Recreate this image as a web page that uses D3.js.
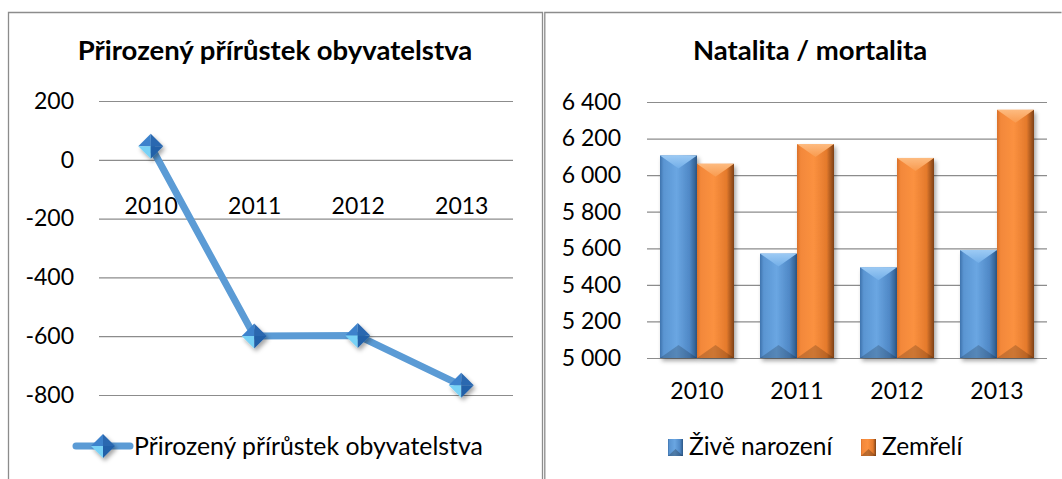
<!DOCTYPE html>
<html>
<head>
<meta charset="utf-8">
<script src="https://cdn.jsdelivr.net/npm/d3@7/dist/d3.min.js"></script>
<style>
  body { margin: 0; background: #fff; }
  text { font-family: Lato, "Open Sans", sans-serif; fill: #000; }
</style>
</head>
<body>
<script>
// data
const years = ['2010', '2011', '2012', '2013'];
const growth = [46, -599, -598, -767];
const births = [6108, 5571, 5496, 5590];
const deaths = [6062, 6170, 6094, 6357];
const growthTicks = [200, 0, -200, -400, -600, -800];
const rateTicks = [5000, 5200, 5400, 5600, 5800, 6000, 6200, 6400];
const seriesNames = ['Živě narození', 'Zemřelí'];
const lineTitle = 'Přirozený přírůstek obyvatelstva';
const barTitle = 'Natalita / mortalita';

const w = 1062;
const h = 479;

const svg = d3.select('body').append('svg')
    .attr('width', w)
    .attr('height', h)

const defs = svg.append('defs')

// shadow for markers and bars
const shadow = defs.append('filter').attr('id', 'shadow')
    .attr('x', '-30%').attr('y', '-30%').attr('width', '160%').attr('height', '160%')
shadow.append('feDropShadow')
    .attr('dx', 2).attr('dy', 3).attr('stdDeviation', 2)
    .attr('flood-color', '#000').attr('flood-opacity', 0.35)

function hGrad(id, stops) {
    const g = defs.append('linearGradient').attr('id', id)
        .attr('x1', '0%').attr('x2', '100%').attr('y1', '0%').attr('y2', '0%')
    stops.forEach(s => g.append('stop').attr('offset', s[0]).attr('stop-color', s[1]))
}
hGrad('blueBar', [['0%', '#3f73ad'], ['10%', '#5a95d2'], ['45%', '#6aa6e2'], ['80%', '#4f88c6'], ['100%', '#2b5786']])
hGrad('orangeBar', [['0%', '#d9702a'], ['10%', '#f3883a'], ['45%', '#fb9140'], ['80%', '#e47a2c'], ['100%', '#7e4116']])

const vGrad = (id, c1, c2) => {
    const g = defs.append('linearGradient').attr('id', id)
        .attr('x1', '0%').attr('x2', '0%').attr('y1', '0%').attr('y2', '100%')
    g.append('stop').attr('offset', '0%').attr('stop-color', c1)
    g.append('stop').attr('offset', '100%').attr('stop-color', c2)
}
vGrad('blueTop', '#9ccaf4', '#72aee8')
vGrad('orangeTop', '#fdbb80', '#f99a4e')

// frames
const frame = svg.append('g').attr('fill', 'none').attr('stroke', '#8c8c8c').attr('stroke-width', 1.3)
frame.append('path').attr('d', 'M8.5,479 V12.5 H542.5 V479')
frame.append('path').attr('d', 'M544.8,479 V12.5 H1061.5')

/* ---------- left: line chart ---------- */
const left = svg.append('g')

const xL = d3.scalePoint()
    .domain(years)
    .range([99, 513])
    .padding(0.5)

const yL = d3.scaleLinear()
    .domain([-800, 200])
    .range([395, 101])

left.append('g')
    .attr('transform', 'translate(99,0)')
    .call(d3.axisLeft(yL).tickValues(growthTicks).tickSize(-414).tickPadding(25).tickFormat(d => String(d)))
    .call(g => g.select('.domain').remove())
    .call(g => g.selectAll('line').attr('stroke', '#8c8c8c').attr('stroke-width', 1.2))
    .call(g => g.selectAll('text').attr('font-size', 23).attr('font-family', 'Lato'))

left.append('g')
    .attr('transform', 'translate(0,' + yL(0) + ')')
    .call(d3.axisBottom(xL).tickSize(0))
    .call(g => g.select('.domain').remove())
    .call(g => g.selectAll('text').attr('y', 54).attr('dy', null)
        .attr('font-size', 23).attr('font-family', 'Lato'))

const line = d3.line()
    .x((d, i) => xL(years[i]))
    .y(d => yL(d))

left.append('path')
    .datum(growth)
    .attr('d', line)
    .attr('fill', 'none')
    .attr('stroke', '#5b9bd5')
    .attr('stroke-width', 7)
    .attr('stroke-linejoin', 'round')

function diamond(g, cx, cy, r) {
    const m = g.append('g').attr('filter', 'url(#shadow)')
    m.append('path').attr('d', `M${cx - r},${cy} L${cx},${cy - r} L${cx},${cy} Z`).attr('fill', '#3c82cc')
    m.append('path').attr('d', `M${cx},${cy - r} L${cx + r},${cy} L${cx},${cy} Z`).attr('fill', '#2a68b0')
    m.append('path').attr('d', `M${cx - r},${cy} L${cx},${cy + r} L${cx},${cy} Z`).attr('fill', '#78d2f6')
    m.append('path').attr('d', `M${cx},${cy + r} L${cx + r},${cy} L${cx},${cy} Z`).attr('fill', '#2361a8')
}

growth.forEach((d, i) => diamond(left, xL(years[i]), yL(d), 12.5))

left.append('text')
    .attr('x', 275).attr('y', 60)
    .attr('text-anchor', 'middle')
    .attr('font-size', 27.5).attr('font-weight', 'bold')
    .text(lineTitle)

// legend
left.append('line')
    .attr('x1', 76).attr('x2', 130).attr('y1', 446).attr('y2', 446)
    .attr('stroke', '#5b9bd5').attr('stroke-width', 7).attr('stroke-linecap', 'round')
diamond(left, 103, 446, 12)
left.append('text')
    .attr('x', 134).attr('y', 455)
    .attr('font-size', 24.8)
    .text(lineTitle)

/* ---------- right: bar chart ---------- */
const right = svg.append('g')

const xR = d3.scaleBand()
    .domain(years)
    .range([647, 1047])
    .paddingInner(0.26)
    .paddingOuter(0.13)

const xSub = d3.scaleBand()
    .domain(seriesNames)
    .range([0, xR.bandwidth()])

const yR = d3.scaleLinear()
    .domain([5000, 6400])
    .range([358, 102])

const czFormat = d3.formatLocale({ decimal: ',', thousands: ' ', grouping: [3], currency: ['', ''] }).format(',')

right.append('g')
    .attr('transform', 'translate(647,0)')
    .call(d3.axisLeft(yR).tickValues(rateTicks).tickSize(-400).tickPadding(26).tickFormat(czFormat))
    .call(g => g.select('.domain').remove())
    .call(g => g.selectAll('line').attr('stroke', '#8c8c8c').attr('stroke-width', 1.2))
    .call(g => g.selectAll('text').attr('font-size', 23).attr('font-family', 'Lato'))

right.append('g')
    .attr('transform', 'translate(0,' + yR(5000) + ')')
    .call(d3.axisBottom(xR).tickSize(0))
    .call(g => g.select('.domain').remove())
    .call(g => g.selectAll('text').attr('y', 41).attr('dy', null)
        .attr('font-size', 23).attr('font-family', 'Lato'))

const barData = []
years.forEach((y, i) => {
    barData.push({ year: y, series: seriesNames[0], value: births[i], col: 'blue' })
    barData.push({ year: y, series: seriesNames[1], value: deaths[i], col: 'orange' })
})

const bars = right.selectAll('.bar')
    .data(barData)
    .enter()
    .append('g')
    .attr('class', 'bar')
    .attr('filter', 'url(#shadow)')

bars.each(function (d) {
    const g = d3.select(this)
    const x = xR(d.year) + xSub(d.series)
    const bw = xSub.bandwidth()
    const top = yR(d.value)
    const bottom = yR(5000)
    const bev = Math.min(13, (bottom - top) / 2)
    g.append('rect')
        .attr('x', x).attr('y', top).attr('width', bw).attr('height', bottom - top)
        .attr('fill', `url(#${d.col}Bar)`)
    g.append('path')
        .attr('d', `M${x},${top} L${x + bw},${top} L${x + bw / 2},${top + bev} Z`)
        .attr('fill', `url(#${d.col}Top)`)
    g.append('path')
        .attr('d', `M${x},${bottom} L${x + bw},${bottom} L${x + bw / 2},${bottom - bev} Z`)
        .attr('fill', '#000').attr('opacity', 0.18)
})

right.append('text')
    .attr('x', 810).attr('y', 60)
    .attr('text-anchor', 'middle')
    .attr('font-size', 27.5).attr('font-weight', 'bold')
    .text(barTitle)

// legend
const legX = [668, 861]
seriesNames.forEach((s, i) => {
    const col = i === 0 ? 'blue' : 'orange'
    const g = right.append('g')
    g.append('rect')
        .attr('x', legX[i]).attr('y', 439).attr('width', 15).attr('height', 17)
        .attr('fill', `url(#${col}Bar)`)
    g.append('path')
        .attr('d', `M${legX[i]},${456} L${legX[i] + 15},${456} L${legX[i] + 7.5},${449} Z`)
        .attr('fill', '#000').attr('opacity', 0.25)
    g.append('text')
        .attr('x', legX[i] + 21).attr('y', 455)
        .attr('font-size', 24.5)
        .text(s)
})
</script>
</body>
</html>
